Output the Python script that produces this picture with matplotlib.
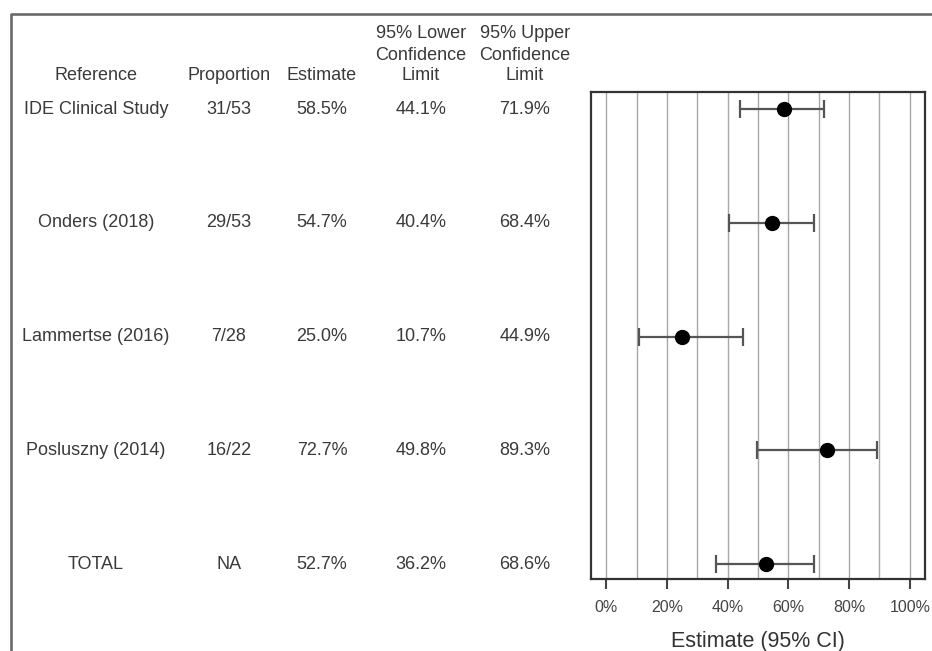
import matplotlib.pyplot as plt
import matplotlib.transforms as mtransforms
from matplotlib.lines import Line2D

plt.rcParams['font.family'] = ['Liberation Sans', 'DejaVu Sans']

# Study-level proportions with 95% confidence limits
references = ['IDE Clinical Study', 'Onders (2018)', 'Lammertse (2016)',
              'Posluszny (2014)', 'TOTAL']
proportions = ['31/53', '29/53', '7/28', '16/22', 'NA']
estimates = [58.5, 54.7, 25.0, 72.7, 52.7]
lower = [44.1, 40.4, 10.7, 49.8, 36.2]
upper = [71.9, 68.4, 44.9, 89.3, 68.6]
xticks = [0, 20, 40, 60, 80, 100]

W, H = 932, 651
fig = plt.figure(figsize=(W / 100, H / 100), dpi=100)
ax = fig.add_axes([591 / W, 1 - 579 / H, (925 - 591) / W, (579 - 92) / H])

rows = list(range(len(references)))

# vertical reference lines every 10%
for g in range(0, 101, 10):
    ax.axvline(g, color='#a8a8a8', lw=1.0, zorder=0)

err_lo = [e - l for e, l in zip(estimates, lower)]
err_hi = [u - e for e, u in zip(estimates, upper)]
ax.errorbar(estimates, rows, xerr=[err_lo, err_hi], fmt='o', color='black',
            ecolor='#555555', elinewidth=1.6, capsize=6.5, capthick=1.6,
            markersize=10, zorder=3)

ax.set_xlim(-5, 105)
ax.set_ylim(4.13, -0.15)
ax.set_yticks([])
ax.set_xticks(xticks)
ax.set_xticklabels([f'{t}%' for t in xticks], fontsize=11.5, color='#444444')
ax.tick_params(axis='x', length=7, width=1.5, color='#444444', pad=8)
for s in ax.spines.values():
    s.set_color('#333333')
    s.set_linewidth(1.6)
ax.set_xlabel('Estimate (95% CI)', fontsize=15.5, color='#333333', labelpad=12)

# table columns to the left of the plot, rows aligned to the plot's y data
trans = mtransforms.blended_transform_factory(fig.transFigure, ax.transData)
col_x = [96 / W, 229 / W, 322 / W, 421 / W, 525 / W]
txt = dict(fontsize=13, color='#3a3a3a', ha='center', va='center')
for i in rows:
    vals = [references[i], proportions[i], f'{estimates[i]:.1f}%',
            f'{lower[i]:.1f}%', f'{upper[i]:.1f}%']
    for x, v in zip(col_x, vals):
        fig.text(x, i, v, transform=trans, **txt)

# column headers
hdr_y = [1 - 34 / H, 1 - 55 / H, 1 - 76 / H]
fig.text(col_x[0], hdr_y[2], 'Reference', **txt)
fig.text(col_x[1], hdr_y[2], 'Proportion', **txt)
fig.text(col_x[2], hdr_y[2], 'Estimate', **txt)
for x, first in [(col_x[3], '95% Lower'), (col_x[4], '95% Upper')]:
    fig.text(x, hdr_y[0], first, **txt)
    fig.text(x, hdr_y[1], 'Confidence', **txt)
    fig.text(x, hdr_y[2], 'Limit', **txt)

# outer border (runs off the right and bottom edges)
fig.add_artist(Line2D([10.5 / W, 10.5 / W, 1.0], [0.0, 1 - 13.5 / H, 1 - 13.5 / H],
                      transform=fig.transFigure, color='#6a6a6a', lw=1.9))

fig.savefig('out.png', dpi=100)
